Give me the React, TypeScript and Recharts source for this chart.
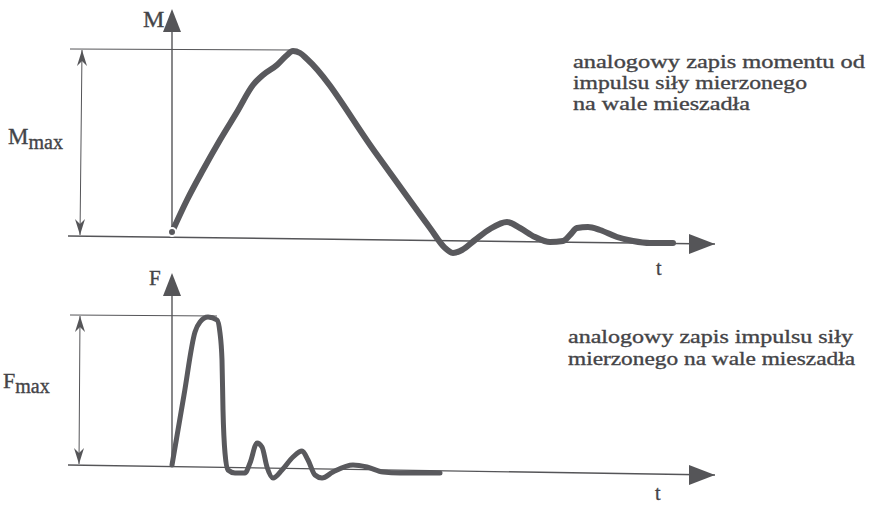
import { LineChart, Line, XAxis, YAxis, ReferenceLine, ReferenceDot } from 'recharts'

const INK = '#555558'
const CURVE = '#59595d'
const SERIF = '"Liberation Serif", "Times New Roman", serif'

// upper record: moment on the mixer shaft
const momentT = [0, 15, 31, 48, 65, 81, 91, 105, 114, 121, 128, 135, 203, 258, 273, 281, 290, 303, 318, 335, 348, 363, 378, 391, 398, 405, 416, 428, 445, 461, 478, 501]
const momentM = [4, 36, 66, 96, 124, 151, 161, 171, 180, 185, 183, 177, 84, 8, -12, -17, -14, -4, 7, 14, 8, -1, -6, -5, 1, 8, 9, 6, -1, -5, -7, -7]

// lower record: force impulse
const forceT = [0, 12, 23, 28, 36, 45, 48, 50, 51, 53, 56, 63, 73, 78, 85, 90, 95, 101, 110, 121, 130, 136, 143, 150, 161, 181, 195, 211, 228, 268]
const forceF = [0, 70, 133, 143, 148, 145, 132, 105, 55, 12, -5, -8, -8, 2, 22, 18, -2, -13, -5, 8, 14, 5, -10, -13, -7, 0, -2, -7, -8, -8]

const momentData = momentT.map((t, i) => ({ t, v: momentM[i] }))
const forceData = forceT.map((t, i) => ({ t, v: forceF[i] }))

const upArrow = ({ cx, cy }: any) => (
  <polygon points={`${cx},${cy} ${cx + 9},${cy + 23} ${cx - 9},${cy + 23}`} fill={INK} />
)
const rightArrow = ({ cx, cy }: any) => (
  <polygon points={`${cx},${cy} ${cx - 26},${cy - 10} ${cx - 26},${cy + 10}`} fill={INK} />
)
const dartUp = ({ cx, cy }: any) => (
  <polygon points={`${cx},${cy} ${cx + 5},${cy + 16} ${cx},${cy + 11} ${cx - 5},${cy + 16}`} fill={INK} />
)
const dartDown = ({ cx, cy }: any) => (
  <polygon points={`${cx},${cy} ${cx + 5},${cy - 16} ${cx},${cy - 11} ${cx - 5},${cy - 16}`} fill={INK} />
)

interface PlotProps {
  data: { t: number; v: number }[]
  height: number
  yDomain: [number, number]
  axisTop: number
  peak: number
  peakEnd: number
  dimX: [number, number]
  baseEnd: number
  width: number
}

function Plot({ data, height, yDomain, axisTop, peak, peakEnd, dimX, baseEnd, width }: PlotProps) {
  return (
    <LineChart width={872} height={height} data={data} margin={{ top: 0, right: 0, bottom: 0, left: 0 }}>
      <XAxis type="number" dataKey="t" domain={[-172, 700]} hide allowDataOverflow />
      <YAxis type="number" domain={yDomain} hide allowDataOverflow />
      {/* t axis (the scan is slightly tilted) */}
      <ReferenceLine segment={[{ x: -104, y: 0 }, { x: 543, y: baseEnd }]} stroke={INK} strokeWidth={1.4} ifOverflow="visible" />
      {/* value axis */}
      <ReferenceLine segment={[{ x: 0, y: 0 }, { x: 0, y: axisTop - 10 }]} stroke={INK} strokeWidth={1.4} ifOverflow="visible" />
      {/* max level + dimension arrow */}
      <ReferenceLine segment={[{ x: -102, y: peak }, { x: peakEnd, y: peak - 1 }]} stroke={INK} strokeWidth={1} ifOverflow="visible" />
      <ReferenceLine segment={[{ x: dimX[0], y: peak - 1 }, { x: dimX[1], y: 1 }]} stroke={INK} strokeWidth={1} ifOverflow="visible" />
      <ReferenceDot x={0} y={axisTop} r={1} shape={upArrow} ifOverflow="visible" />
      <ReferenceDot x={543} y={baseEnd} r={1} shape={rightArrow} ifOverflow="visible" />
      <ReferenceDot x={dimX[0]} y={peak - 1} r={1} shape={dartUp} ifOverflow="visible" />
      <ReferenceDot x={dimX[1]} y={1} r={1} shape={dartDown} ifOverflow="visible" />
      <Line
        type="monotone"
        dataKey="v"
        stroke={CURVE}
        strokeWidth={width}
        strokeLinecap="round"
        strokeLinejoin="round"
        dot={false}
        isAnimationActive={false}
      />
    </LineChart>
  )
}

export default function App() {
  const txt = { fontFamily: SERIF, fill: '#444447', stroke: '#444447', strokeWidth: 0.35 }
  return (
    <div style={{ position: 'relative', width: 872, height: 505, background: '#fff', overflow: 'hidden' }}>
      <style>{'body{margin:0}'}</style>
      <div style={{ position: 'absolute', left: 0, top: 0 }}>
        <Plot data={momentData} height={260} yDomain={[-24, 236]} axisTop={227} peak={187} peakEnd={121} dimX={[-90, -92]} baseEnd={-8} width={6} />
      </div>
      <div style={{ position: 'absolute', left: 0, top: 260 }}>
        <Plot data={forceData} height={245} yDomain={[-40, 205]} axisTop={192} peak={150} peakEnd={45} dimX={[-92, -93]} baseEnd={-10} width={5} />
      </div>
      <svg width={872} height={505} style={{ position: 'absolute', left: 0, top: 0, pointerEvents: 'none' }}>
        <text x={143} y={27} fontSize={24} {...txt}>M</text>
        <text x={8} y={144} fontSize={23} {...txt}>
          M<tspan fontSize={20} dy={5}>max</tspan>
        </text>
        <text x={656} y={275} fontSize={20} {...txt}>t</text>
        <g fontSize={19} {...txt}>
          <text x={573} y={68} textLength={292} lengthAdjust="spacingAndGlyphs">analogowy zapis momentu od</text>
          <text x={573} y={89} textLength={234} lengthAdjust="spacingAndGlyphs">impulsu siły mierzonego</text>
          <text x={573} y={110} textLength={177} lengthAdjust="spacingAndGlyphs">na wale mieszadła</text>
          <text x={568} y={343} textLength={285} lengthAdjust="spacingAndGlyphs">analogowy zapis impulsu siły</text>
          <text x={568} y={365} textLength={287} lengthAdjust="spacingAndGlyphs">mierzonego na wale mieszadła</text>
        </g>
        <text x={149} y={285} fontSize={21} {...txt}>F</text>
        <text x={3} y={388} fontSize={22} {...txt}>
          F<tspan fontSize={20} dy={5}>max</tspan>
        </text>
        <text x={655} y={500} fontSize={20} {...txt}>t</text>
      </svg>
    </div>
  )
}
